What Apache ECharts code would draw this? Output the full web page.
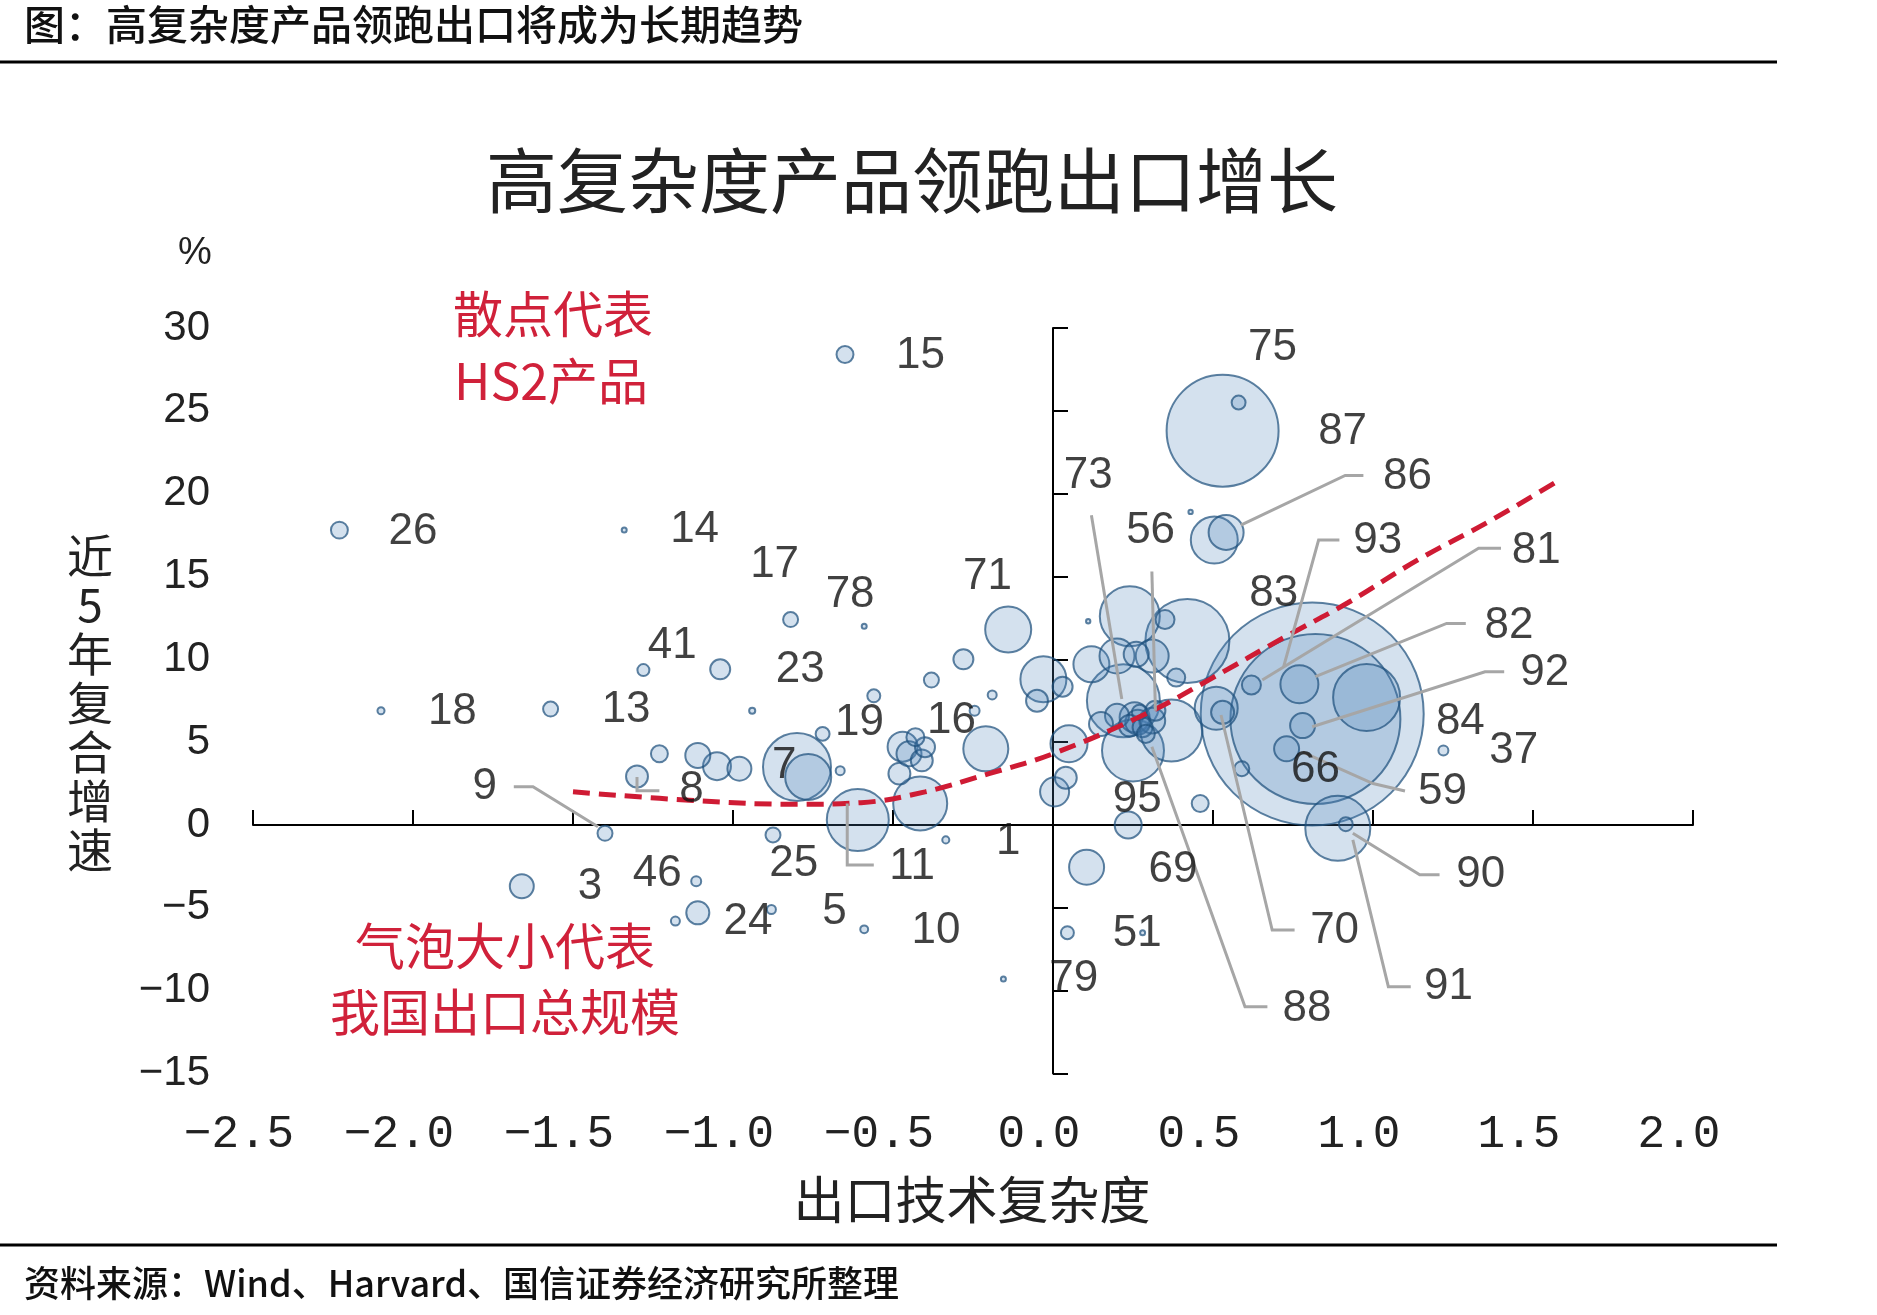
<!DOCTYPE html>
<html>
<head>
<meta charset="utf-8">
<title>高复杂度产品领跑出口增长</title>
<script src="https://cdn.jsdelivr.net/npm/echarts@6/dist/echarts.min.js"></script>
<style>
  html, body { margin: 0; padding: 0; background: #fff; }
  #chart { width: 1877px; height: 1315px; }
</style>
</head>
<body>
<div id="chart"></div>
<script>
// HS2 产品：出口技术复杂度、近5年复合增速(%)、出口规模(亿美元，决定气泡大小)
const hsCode = ['15', '26', '14', '17', '78', '71', '41', '23', '18', '13',
  '', '19', '', '', '', '', '16', '', '', '',
  '', '8', '7', '', '', '', '', '', '', '',
  '', '', '11', '', '9', '25', '1', '3', '46', '24',
  '', '5', '10', '79', '51', '', '',
  '', '', '', '', '', '', '95', '',
  '', '', '', '', '', '', '', '', '', '73',
  '', '', '', '', '', '', '', '', '', '',
  '', '56',
  '84', '85', '', '93', '81', '92', '66', '', '70', '',
  '90', '91', '37', '87', '75', '', '', '86'];
const complexity = [-0.65, -2.23, -1.34, -0.82, -0.59, -0.14, -1.28, -1.04, -2.10, -1.57,
  -0.94, -0.72, -0.56, -0.38, -0.28, -0.19, -0.245, -1.23, -1.11, -1.05,
  -0.98, -1.30, -0.80, -0.765, -0.665, -0.47, -0.45, -0.41, -0.43, -0.48,
  -0.40, -0.21, -0.61, -0.415, -1.40, -0.875, -0.335, -1.66, -1.115, -1.11,
  -1.18, -0.88, -0.59, -0.155, 0.28, 0.045, 0.105,
  -0.03, -0.05, 0.03, 0.05, 0.04, 0.005, 0.235, 0.46,
  0.24, 0.35, 0.11, 0.42, 0.31, 0.20, 0.12, 0.26, 0.385, 0.22,
  0.25, 0.37, 0.255, 0.265, 0.28, 0.24, 0.27, 0.29, 0.31, 0.20,
  0.15, 0.32,
  0.81, 0.82, 0.98, 0.77, 0.62, 0.78, 0.73, 0.59, 0.51, 0.53,
  0.89, 0.915, 1.22, 0.53, 0.58, 0.43, 0.504, 0.541];
const growth = [28.4, 17.8, 17.8, 12.4, 12.0, 11.8, 9.35, 9.4, 6.9, 7.0,
  6.9, 5.5, 7.8, 8.75, 10.0, 7.85, 6.9, 4.3, 4.2, 3.55,
  3.4, 2.93, 3.5, 2.9, 3.28, 4.73, 4.3, 3.9, 5.3, 3.1,
  4.7, 4.6, 0.3, 1.3, -0.5, -0.6, -0.9, -3.7, -3.4, -5.3,
  -5.8, -5.1, -6.3, -9.3, -6.5, -6.5, -2.55,
  8.8, 7.5, 8.35, 4.9, 2.85, 2.0, 0.0, 1.3,
  12.6, 12.4, 12.3, 11.1, 10.2, 10.2, 9.7, 10.3, 8.9, 7.5,
  4.5, 5.7, 6.5, 6.2, 5.9, 6.0, 6.8, 5.5, 6.3, 6.6,
  6.1, 6.9,
  6.7, 6.4, 7.7, 8.5, 8.45, 6.0, 4.6, 3.4, 7.05, 6.8,
  -0.2, 0.05, 4.5, 23.8, 25.5, 18.9, 17.2, 17.66];
const exportScale = [46, 46, 4, 36, 4, 339, 23, 64, 8, 36,
  6, 31, 27, 36, 64, 13, 16, 46, 100, 125,
  92, 77, 740, 339, 13, 144, 100, 77, 52, 77,
  64, 324, 615, 467, 36, 36, 8, 92, 16, 85,
  13, 13, 10, 4, 4, 27, 196,
  339, 77, 64, 219, 77, 135, 117, 46,
  576, 58, 3, 1129, 174, 196, 207, 100, 52, 853,
  615, 615, 144, 100, 64, 77, 36, 52, 108, 92,
  92, 64,
  7957, 4624, 718, 231, 58, 100, 100, 36, 296, 85,
  676, 31, 16, 2007, 31, 3, 353, 196];

// 拟合趋势线（读图取点）
const trendX = [-1.5, -1.1, -0.8, -0.6, -0.4, -0.2, 0.0, 0.3, 0.5, 0.72, 0.92, 1.14, 1.37, 1.58];
const trendY = [2.0, 1.45, 1.25, 1.35, 2.0, 3.1, 4.3, 6.8, 8.9, 11.3, 13.4, 16.0, 18.4, 20.8];

// 标注文字及位置（坐标轴单位）
const labelText = ['15', '26', '14', '17', '78', '71', '41', '23', '18', '13', '19', '16', '7', '8', '9',
  '25', '11', '1', '3', '46', '24', '5', '10', '79', '51', '69', '95', '73', '56', '75',
  '87', '86', '93', '81', '83', '82', '92', '84', '37', '66', '59', '90', '70', '91', '88'];
const labelX = [-0.414, -2.0, -1.12, -0.87, -0.634, -0.205, -1.19, -0.79, -1.877, -1.334, -0.605, -0.317, -0.84, -1.13, -1.776,
  -0.81, -0.44, -0.14, -1.447, -1.237, -0.953, -0.683, -0.366, 0.065, 0.263, 0.375, 0.263, 0.11, 0.305, 0.686,
  0.905, 1.108, 1.015, 1.51, 0.69, 1.425, 1.537, 1.273, 1.44, 0.82, 1.217, 1.337, 0.88, 1.236, 0.794];
const labelY = [28.3, 17.7, 17.8, 15.7, 13.9, 15.0, 10.8, 9.35, 6.8, 6.94, 6.15, 6.3, 3.56, 2.1, 2.33,
  -2.37, -2.5, -1.0, -3.74, -2.95, -5.84, -5.26, -6.4, -9.3, -6.56, -2.7, 1.53, 21.05, 17.75, 28.8,
  23.75, 21.0, 17.15, 16.55, 13.95, 12.05, 9.2, 6.25, 4.5, 3.33, 2.02, -3.0, -6.4, -9.8, -11.1];

// 引线
const leaderLines = [
  [[-1.685, 2.31], [-1.625, 2.31], [-1.422, -0.1]],
  [[-1.30, 2.9], [-1.30, 2.07], [-1.23, 2.07]],
  [[-0.643, 1.3], [-0.643, -2.41], [-0.56, -2.41]],
  [[0.12, 18.7], [0.215, 7.6]],
  [[0.309, 15.3], [0.32, 6.9]],
  [[0.587, 18.1], [0.913, 21.1], [0.97, 21.1]],
  [[0.895, 17.2], [0.83, 17.2], [0.72, 9.5]],
  [[1.40, 16.7], [1.33, 16.7], [0.654, 8.75]],
  [[1.29, 12.17], [1.23, 12.17], [0.82, 8.95]],
  [[1.41, 9.25], [1.35, 9.25], [0.81, 5.93]],
  [[1.10, 2.05], [1.0, 2.5], [0.78, 4.4]],
  [[0.937, -0.5], [1.146, -3.0], [1.208, -3.0]],
  [[0.937, -0.9], [1.048, -9.76], [1.118, -9.76]],
  [[0.525, 6.64], [0.685, -6.34], [0.755, -6.34]],
  [[0.309, 4.73], [0.60, -10.97], [0.67, -10.97]]
];

const CJK = '"Noto Sans CJK SC", sans-serif';
const NUM = '"Liberation Sans", Arial, sans-serif';
const RED = '#d0213a';

const bubbles = hsCode.map((c, i) => [complexity[i], growth[i], exportScale[i], c])
  .sort((a, b) => b[2] - a[2]);

const fmtNum = (v, d) => {
  const s = Math.abs(v).toFixed(d);
  return v < 0 ? '\u2212' + s : s;
};

const chart = echarts.init(document.getElementById('chart'));

chart.setOption({
  animation: false,
  backgroundColor: '#fff',
  grid: { left: 253, right: 184, top: 328, bottom: 241.5 },
  xAxis: [{
    type: 'value', min: -2.5, max: 2.0, interval: 0.5, position: 'bottom',
    axisLine: { onZero: true, lineStyle: { color: '#000', width: 2 } },
    axisTick: { inside: true, length: 15, lineStyle: { color: '#000', width: 2 } },
    axisLabel: { show: false },
    splitLine: { show: false }
  }, {
    type: 'value', min: -2.5, max: 2.0, interval: 0.5, position: 'bottom',
    axisLine: { show: false, onZero: false },
    axisTick: { show: false },
    axisLabel: {
      margin: 38, color: '#222', fontSize: 46, fontFamily: '"Liberation Mono", monospace',
      padding: [0, 28, 0, 0],
      formatter: v => fmtNum(v, 1)
    },
    splitLine: { show: false }
  }],
  yAxis: [{
    type: 'value', min: -15, max: 30, interval: 5, position: 'left',
    axisLine: { onZero: true, lineStyle: { color: '#000', width: 2 } },
    axisTick: { inside: true, length: 15, lineStyle: { color: '#000', width: 2 } },
    axisLabel: { show: false },
    splitLine: { show: false }
  }, {
    type: 'value', min: -15, max: 30, interval: 5, position: 'left',
    axisLine: { show: false, onZero: false },
    axisTick: { show: false },
    axisLabel: {
      margin: 43, color: '#222', fontSize: 42, fontFamily: NUM,
      formatter: v => fmtNum(v, 0)
    },
    splitLine: { show: false }
  }],
  series: [{
    type: 'scatter',
    xAxisIndex: 0, yAxisIndex: 0,
    z: 2,
    data: bubbles,
    symbolSize: d => 2.5 * Math.sqrt(d[2]),
    itemStyle: {
      color: 'rgba(79,132,185,0.3)',
      borderColor: 'rgba(30,80,125,0.9)',
      borderWidth: 2
    },
    emphasis: { disabled: true }
  }, {
    type: 'line',
    xAxisIndex: 0, yAxisIndex: 0,
    z: 3,
    data: trendX.map((x, i) => [x, trendY[i]]),
    smooth: 0.4,
    symbol: 'none',
    lineStyle: { color: '#cf1b34', width: 5, type: [17, 9] }
  }, {
    type: 'lines',
    coordinateSystem: 'cartesian2d',
    xAxisIndex: 0, yAxisIndex: 0,
    z: 4,
    polyline: true,
    silent: true,
    data: leaderLines.map(c => ({ coords: c })),
    lineStyle: { color: '#a6a6a6', width: 3, opacity: 1 }
  }, {
    type: 'scatter',
    xAxisIndex: 0, yAxisIndex: 0,
    z: 5,
    symbolSize: 0,
    silent: true,
    data: labelText.map((t, i) => ({ value: [labelX[i], labelY[i]], name: t })),
    label: {
      show: true, position: 'inside', formatter: '{b}',
      color: '#111', fontSize: 44, fontFamily: NUM
    }
  }],
  graphic: [
    { type: 'text', x: 24, y: 24, style: { text: '图：高复杂度产品领跑出口将成为长期趋势', fill: '#111', font: '500 41px ' + CJK, textAlign: 'left', textVerticalAlign: 'middle' } },
    { type: 'line', shape: { x1: 0, y1: 62, x2: 1777, y2: 62 }, style: { stroke: '#000', lineWidth: 3 } },
    { type: 'text', x: 912, y: 180, style: { text: '高复杂度产品领跑出口增长', fill: '#222', font: '71px ' + CJK, textAlign: 'center', textVerticalAlign: 'middle' } },
    { type: 'text', x: 195, y: 254, style: { text: '%', fill: '#222', font: '38px ' + NUM, textAlign: 'center', textVerticalAlign: 'middle' } },
    { type: 'text', x: 90, y: 703, style: { text: '近\n5\n年\n复\n合\n增\n速', fill: '#222', font: '46px ' + CJK, lineHeight: 49, textAlign: 'center', textVerticalAlign: 'middle' } },
    { type: 'text', x: 972, y: 1200, style: { text: '出口技术复杂度', fill: '#222', font: '51px ' + CJK, textAlign: 'center', textVerticalAlign: 'middle' } },
    { type: 'text', x: 553, y: 314, style: { text: '散点代表', fill: RED, font: '50px ' + CJK, textAlign: 'center', textVerticalAlign: 'middle' } },
    { type: 'text', x: 551, y: 381, style: { text: 'HS2产品', fill: RED, font: '50px ' + CJK, textAlign: 'center', textVerticalAlign: 'middle' } },
    { type: 'text', x: 505, y: 946, style: { text: '气泡大小代表', fill: RED, font: '50px ' + CJK, textAlign: 'center', textVerticalAlign: 'middle' } },
    { type: 'text', x: 505, y: 1012, style: { text: '我国出口总规模', fill: RED, font: '50px ' + CJK, textAlign: 'center', textVerticalAlign: 'middle' } },
    { type: 'line', shape: { x1: 0, y1: 1245, x2: 1777, y2: 1245 }, style: { stroke: '#000', lineWidth: 3 } },
    { type: 'text', x: 24, y: 1283, style: { text: '资料来源：Wind、Harvard、国信证券经济研究所整理', fill: '#111', font: '500 36px ' + CJK, textAlign: 'left', textVerticalAlign: 'middle' } }
  ]
});
</script>
</body>
</html>
